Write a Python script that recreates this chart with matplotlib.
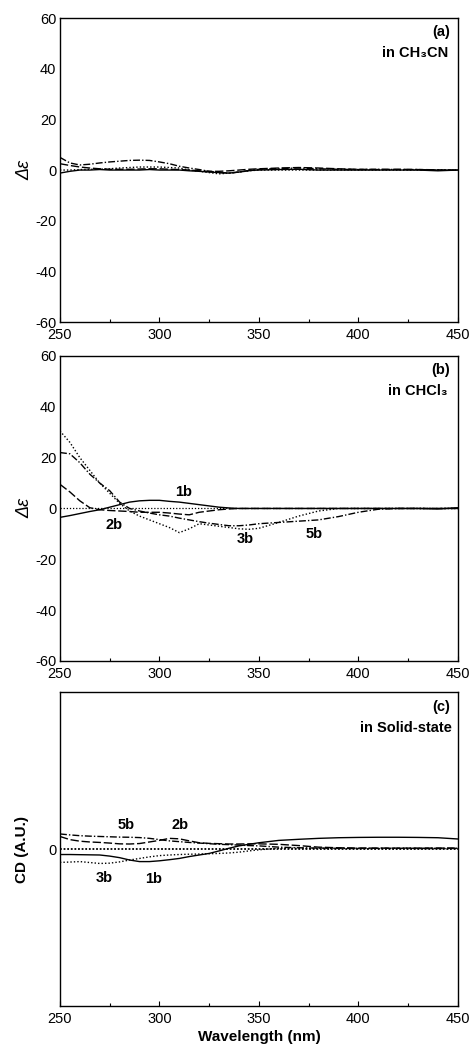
import numpy as np
import matplotlib
matplotlib.use("Agg")
import matplotlib.pyplot as plt

plt.rcParams['font.family'] = ['Liberation Sans', 'DejaVu Sans']
plt.rcParams['axes.unicode_minus'] = False

# wavelength grid (nm)
wl = [250, 255, 260, 265, 270, 275, 280, 285, 290, 295, 300, 305, 310, 315, 320,
      325, 330, 335, 340, 345, 350, 360, 370, 380, 390, 400, 410, 420, 430, 440, 450]

# (a) in CH3CN
a_1b = [-1.2, -0.5, 0, 0, 0.2, 0, 0, 0, 0, 0.2, 0, 0, 0, -0.3, -0.5,
        -0.8, -1.0, -1.2, -0.8, -0.2, 0, 0.2, 0.3, 0, 0, 0, 0, 0, 0, -0.3, 0]
a_2b = [2.5, 1.8, 1.2, 0.8, 0.5, 0.3, 0.3, 0.3, 0.4, 0.5, 0.5, 0.3, 0.2, 0, -0.3,
        -0.5, -0.5, -0.3, 0, 0.3, 0.5, 0.8, 1.0, 0.8, 0.5, 0.3, 0.2, 0.3, 0.2, 0.1, 0]
a_3b = [0, 0, 0.2, 0.3, 0.3, 0.5, 0.8, 1.0, 1.2, 1.2, 1.2, 1.0, 0.8, 0, -0.5,
        -1.0, -1.5, -1.2, -0.8, -0.3, 0, 0, 0, 0, 0, 0, 0, 0, 0, 0, 0]
a_5b = [5.0, 2.8, 2.0, 2.3, 2.8, 3.2, 3.5, 3.8, 3.9, 3.8, 3.2, 2.5, 1.5, 0.8, 0.2,
        -0.5, -1.0, -1.2, -0.8, -0.2, 0.3, 0.6, 0.8, 0.5, 0.3, 0.2, 0.3, 0.2, 0.2, 0, 0]

# (b) in CHCl3
b_1b = [-3.5, -2.8, -2.0, -1.2, -0.5, 0.5, 1.5, 2.5, 3.0, 3.2, 3.2, 2.8, 2.5, 2.0, 1.5,
        1.0, 0.5, 0.2, 0, 0, 0, 0, 0, 0, 0, 0, 0, 0, 0, -0.2, 0.3]
b_2b = [9.5, 6.5, 3.0, 0.3, -0.5, -0.8, -1.0, -1.2, -1.5, -1.5, -1.5, -1.8, -2.2, -2.5, -1.5,
        -1.0, -0.5, -0.2, 0, 0, 0, 0, 0, 0, 0, 0, 0, 0, 0, 0, 0]
b_3b = [30.5, 26, 20, 15, 10, 6, 2, -1, -3, -4.5, -6, -7.5, -9.5, -8, -6,
        -6.5, -7, -7.5, -8, -8.2, -7.8, -5.5, -3, -1, 0, 0, 0, 0, 0, 0, 0]
b_5b = [22, 21.5, 18, 13.5, 10, 7, 2.5, 0, -1, -1.8, -2.5, -3, -3.8, -4.5, -5.2,
        -5.8, -6.3, -6.8, -6.8, -6.5, -6, -5.5, -5, -4.5, -3.2, -1.5, -0.3, 0, 0, 0, 0]

# (c) solid state (A.U.)
c_1b = [-0.035, -0.035, -0.036, -0.037, -0.038, -0.045, -0.055, -0.07, -0.08, -0.08, -0.075,
        -0.068, -0.06, -0.048, -0.038, -0.028, -0.012, 0.005, 0.02, 0.03, 0.04, 0.055, 0.062,
        0.068, 0.072, 0.074, 0.075, 0.075, 0.074, 0.072, 0.064]
c_2b = [0.08, 0.06, 0.05, 0.045, 0.042, 0.038, 0.033, 0.032, 0.035, 0.045, 0.055, 0.068,
        0.065, 0.052, 0.04, 0.036, 0.034, 0.032, 0.032, 0.033, 0.033, 0.03, 0.022, 0.012,
        0.008, 0.006, 0.006, 0.006, 0.006, 0.006, 0.006]
c_3b = [-0.085, -0.083, -0.08, -0.086, -0.092, -0.09, -0.082, -0.07, -0.06, -0.05, -0.042,
        -0.038, -0.035, -0.033, -0.032, -0.03, -0.028, -0.025, -0.02, -0.012, -0.005, 0.005,
        0.005, 0.004, 0.004, 0.003, 0.003, 0.003, 0.003, 0.003, 0.003]
c_5b = [0.096, 0.09, 0.085, 0.082, 0.08, 0.078, 0.076, 0.075, 0.073, 0.068, 0.06, 0.052,
        0.047, 0.042, 0.038, 0.034, 0.03, 0.028, 0.025, 0.022, 0.02, 0.012, 0.008, 0.006,
        0.005, 0.005, 0.005, 0.005, 0.005, 0.005, 0.005]

styles = {
    '1b': '-',
    '2b': (0, (6, 2)),
    '3b': (0, (1, 1.5)),
    '5b': (0, (5, 1.5, 1, 1.5)),
}

fig = plt.figure(figsize=(4.72, 10.5), dpi=100)
ax_a = fig.add_axes([0.127, 0.6933, 0.843, 0.2895])
ax_b = fig.add_axes([0.127, 0.3705, 0.843, 0.2905])
ax_c = fig.add_axes([0.127, 0.0419, 0.843, 0.299])


def style_axis(ax):
    ax.set_xlim(250, 450)
    ax.set_xticks([250, 300, 350, 400, 450])
    ax.set_xticks([275, 325, 375, 425], minor=True)
    ax.tick_params(axis='x', direction='in', length=3.5, width=0.8, labelsize=10.5, pad=4.5)
    ax.tick_params(axis='x', which='minor', direction='in', length=2, width=0.8)
    ax.tick_params(axis='y', length=0, labelsize=10.5, pad=2.5)
    for s in ax.spines.values():
        s.set_linewidth(1.0)


for ax, data in [(ax_a, [a_1b, a_2b, a_3b, a_5b]),
                 (ax_b, [b_1b, b_2b, b_3b, b_5b])]:
    for key, y in zip(['1b', '2b', '3b', '5b'], data):
        ax.plot(wl, y, color='black', lw=1.0, linestyle=styles[key])
    style_axis(ax)
    ax.set_ylim(-60, 60)
    ax.set_yticks([-60, -40, -20, 0, 20, 40, 60])
    ax.set_ylabel('Δε', style='italic', fontsize=13, labelpad=1)

ax_b.axhline(0, color='black', lw=0.9, linestyle=(0, (1, 1.5)))

for key, y in zip(['1b', '2b', '3b', '5b'], [c_1b, c_2b, c_3b, c_5b]):
    ax_c.plot(wl, y, color='black', lw=1.0, linestyle=styles[key])
ax_c.axhline(0, color='black', lw=1.3, linestyle=(0, (1, 1)))
style_axis(ax_c)
ax_c.set_ylim(-1, 1)
ax_c.set_yticks([0])
ax_c.set_ylabel('CD (A.U.)', fontweight='bold', fontsize=11, labelpad=14)
ax_c.set_xlabel('Wavelength (nm)', fontweight='bold', fontsize=11, labelpad=3)

# panel tags
tag_kw = dict(ha='right', va='center', fontweight='bold', fontsize=10.5)
ax_a.text(0.98, 0.953, '(a)', transform=ax_a.transAxes, **tag_kw)
ax_a.text(0.975, 0.885, 'in CH₃CN', transform=ax_a.transAxes, **tag_kw)
ax_b.text(0.98, 0.953, '(b)', transform=ax_b.transAxes, **tag_kw)
ax_b.text(0.975, 0.885, 'in CHCl₃', transform=ax_b.transAxes, **tag_kw)
ax_c.text(0.98, 0.953, '(c)', transform=ax_c.transAxes, **tag_kw)
ax_c.text(0.985, 0.885, 'in Solid-state', transform=ax_c.transAxes, **tag_kw)

# compound labels
lab_kw = dict(ha='center', va='center', fontweight='bold', fontsize=10.5)
ax_b.text(312, 6.5, '1b', **lab_kw)
ax_b.text(277, -6.5, '2b', **lab_kw)
ax_b.text(343, -12, '3b', **lab_kw)
ax_b.text(378, -10, '5b', **lab_kw)
ax_c.text(283.5, 0.15, '5b', **lab_kw)
ax_c.text(310.5, 0.15, '2b', **lab_kw)
ax_c.text(272.5, -0.185, '3b', **lab_kw)
ax_c.text(297, -0.19, '1b', **lab_kw)

fig.savefig('out.png', dpi=100)
